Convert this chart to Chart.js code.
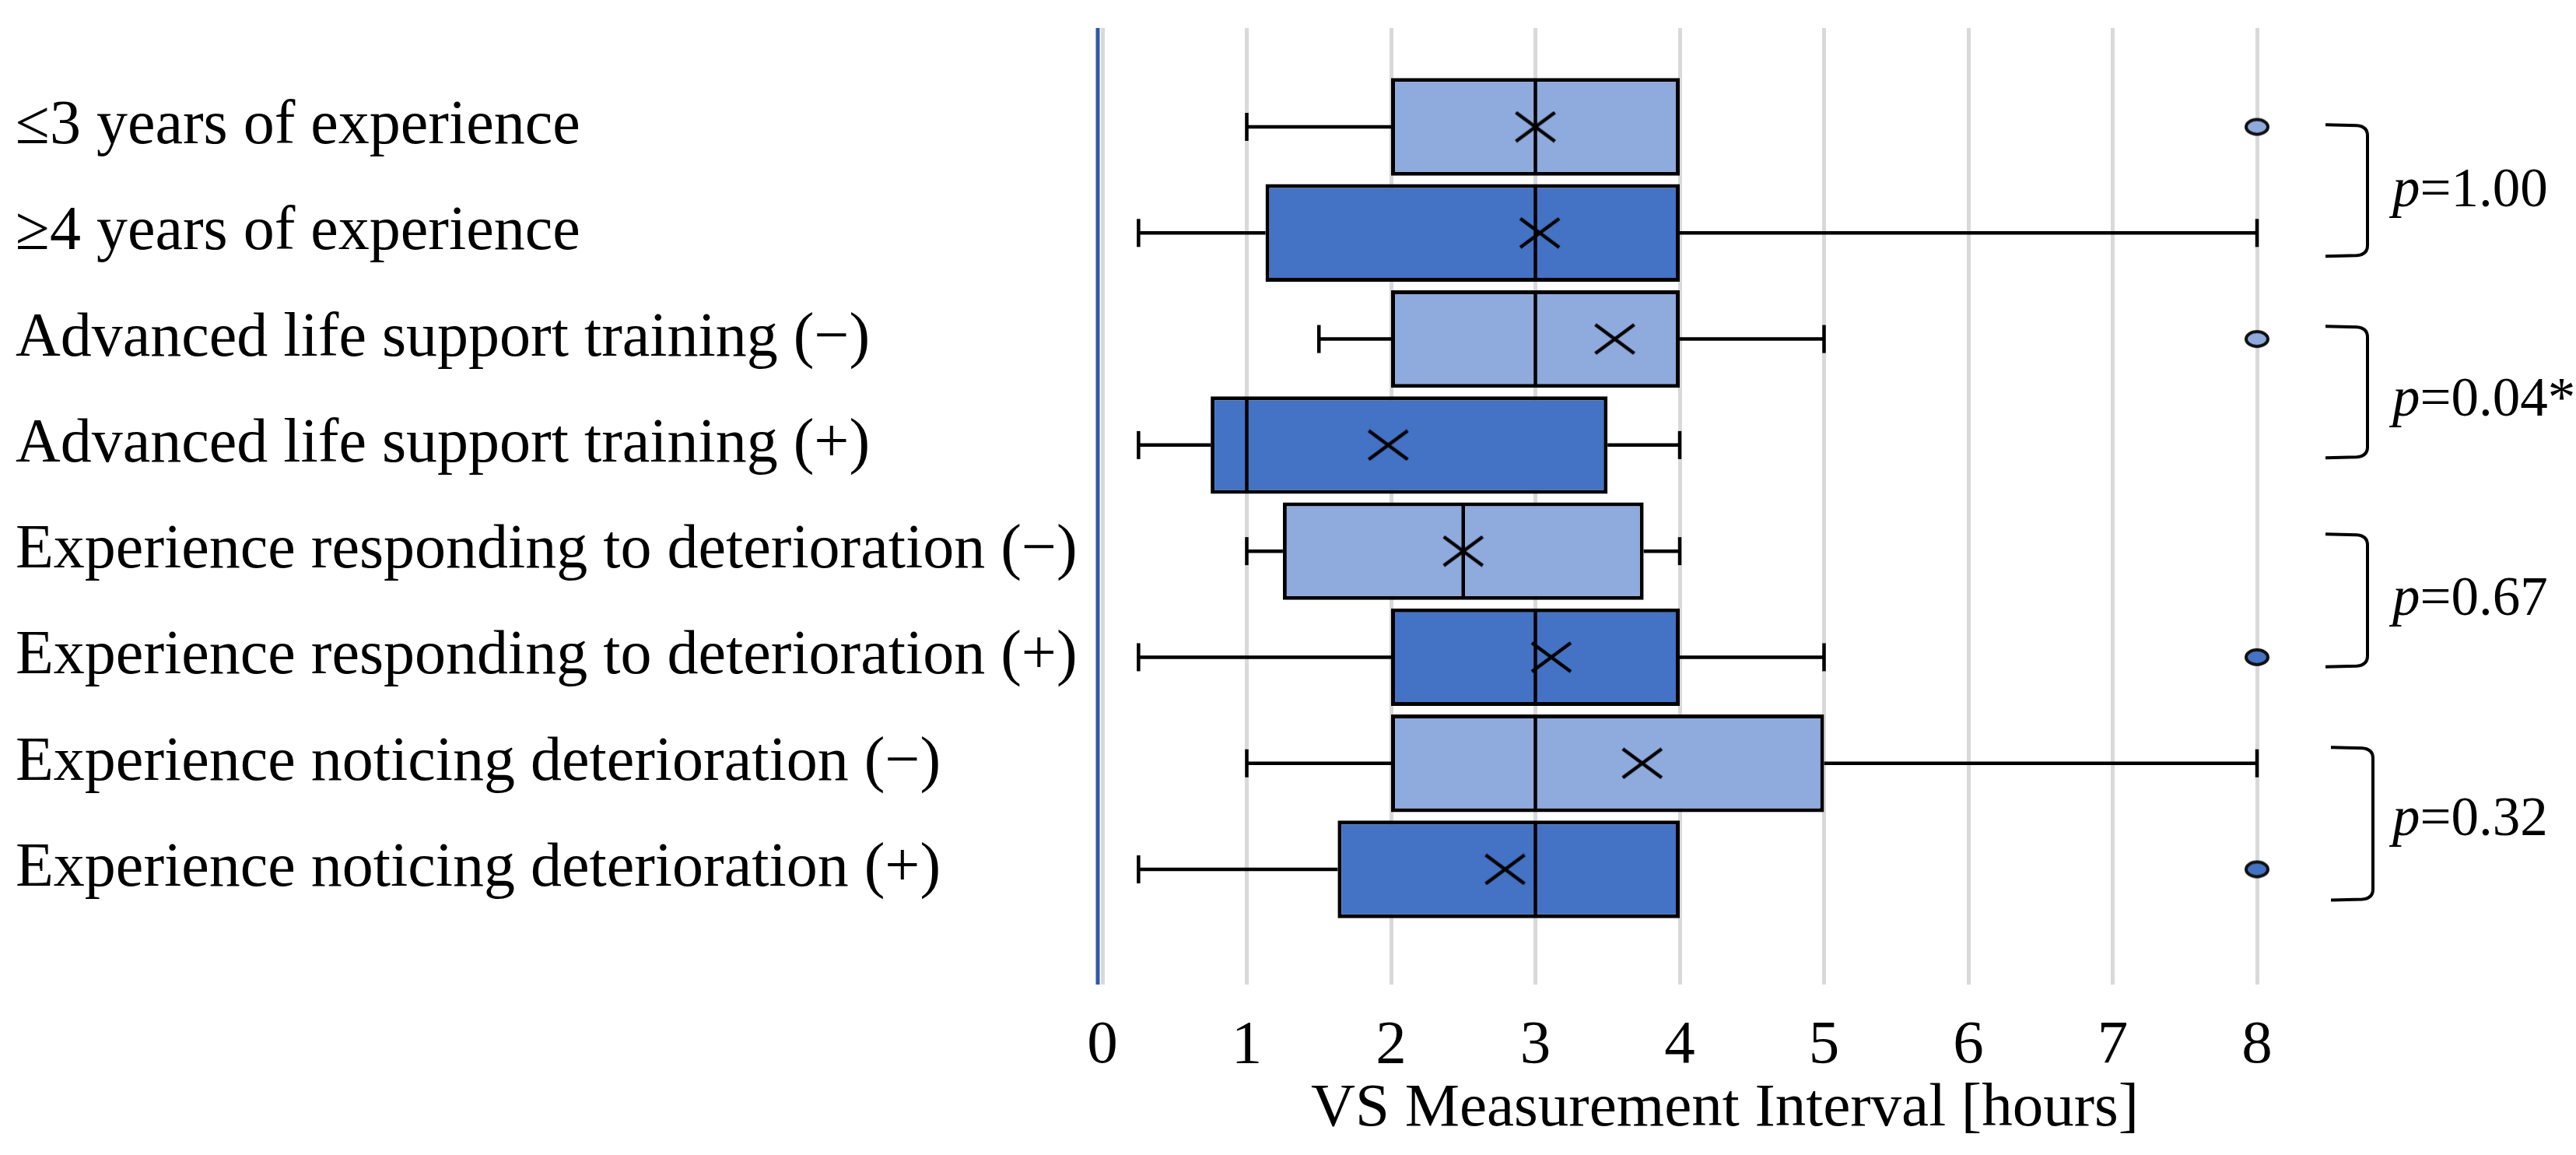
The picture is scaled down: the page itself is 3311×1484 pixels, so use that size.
<!DOCTYPE html>
<html>
<head>
<meta charset="utf-8">
<script src="https://cdn.jsdelivr.net/npm/chart.js@4.4.1/dist/chart.umd.min.js"></script>
<style>
html, body { margin: 0; padding: 0; background: #fff; }
#wrap { width: 3311px; height: 1484px; }
</style>
</head>
<body>
<div id="wrap"><canvas id="myChart"></canvas></div>
<script>
// groups, top to bottom
const categories = [
    '≤3 years of experience',
    '≥4 years of experience',
    'Advanced life support training (−)',
    'Advanced life support training (+)',
    'Experience responding to deterioration (−)',
    'Experience responding to deterioration (+)',
    'Experience noticing deterioration (−)',
    'Experience noticing deterioration (+)'
];
// box plot values, hours
const whiskerLow = [1, 0.25, 1.5, 0.25, 1, 0.25, 1, 0.25];
const q1 = [2, 1.13, 2, 0.75, 1.25, 2, 2, 1.63];
const median = [3, 3, 3, 1, 2.5, 3, 3, 3];
const q3 = [4, 4, 4, 3.5, 3.75, 4, 5, 4];
const whiskerHigh = [4, 8, 5, 4, 4, 5, 8, 4];
const means = [3.0, 3.03, 3.55, 1.98, 2.5, 3.11, 3.74, 2.79];
const outliers = [[8], [], [8], [], [], [8], [], [8]];
const xTicks = [0, 1, 2, 3, 4, 5, 6, 7, 8];
// compared pairs and their p values
const pairs = [[0, 1], [2, 3], [4, 5], [6, 7]];
const pValues = ['1.00', '0.04*', '0.67', '0.32'];
const axisTitle = 'VS Measurement Interval [hours]';

// bracket layout: ends in row steps, label as fraction of bracket height
const bracketTop = [-0.02, -0.12, -0.16, -0.15];
const bracketBottom = [0.22, 0.12, 0.09, 0.29];
const labelAt = [0.48, 0.54, 0.47, 0.45];

const lightBlue = '#8FAADC';
const darkBlue = '#4472C4';
const serif = "'Liberation Serif', serif";
const rowColor = i => (i % 2 ? darkBlue : lightBlue);

function makeCross(w, h) {
    const c = document.createElement('canvas');
    c.width = w;
    c.height = h;
    const g = c.getContext('2d');
    g.strokeStyle = '#000';
    g.lineWidth = 4.5;
    g.beginPath();
    g.moveTo(2, 2);
    g.lineTo(w - 2, h - 2);
    g.moveTo(w - 2, 2);
    g.lineTo(2, h - 2);
    g.stroke();
    return c;
}

function makeDot(fill) {
    const c = document.createElement('canvas');
    c.width = 36;
    c.height = 27;
    const g = c.getContext('2d');
    g.beginPath();
    g.ellipse(18, 13.5, 14, 9.5, 0, 0, Math.PI * 2);
    g.fillStyle = fill;
    g.fill();
    g.lineWidth = 4;
    g.strokeStyle = '#111';
    g.stroke();
    return c;
}

const crossImg = makeCross(54, 41);
const lightDot = makeDot(lightBlue);
const darkDot = makeDot(darkBlue);

let rows = categories.map((c, i) => i);
let lowWhiskers = rows.map(i => ({ y: i, x: [whiskerLow[i], q1[i]] }));
let highWhiskers = rows.map(i => ({ y: i, x: [q3[i], whiskerHigh[i]] }));
let boxes = rows.map(i => ({ y: i, x: [q1[i], q3[i]] }));
let caps = [];
rows.forEach(i => {
    if (whiskerLow[i] < q1[i]) caps.push({ x: whiskerLow[i], y: i });
    if (whiskerHigh[i] > q3[i]) caps.push({ x: whiskerHigh[i], y: i });
});
let medianPts = rows.map(i => ({ x: median[i], y: i }));
let meanPts = rows.map(i => ({ x: means[i], y: i }));
let outlierPts = [];
rows.forEach(i => outliers[i].forEach(v => outlierPts.push({ x: v, y: i })));

// blue line at the left edge of the plot
const axisLine = {
    id: 'axisLine',
    beforeDatasetsDraw(chart) {
        const { ctx, chartArea } = chart;
        ctx.save();
        ctx.strokeStyle = '#2E59A8';
        ctx.lineWidth = 5;
        ctx.beginPath();
        ctx.moveTo(chartArea.left - 6, chartArea.top);
        ctx.lineTo(chartArea.left - 6, chartArea.bottom);
        ctx.stroke();
        ctx.restore();
    }
};

// brackets with p values, plus the x axis title
const annotations = {
    id: 'annotations',
    afterDraw(chart) {
        const { ctx, chartArea } = chart;
        const ys = chart.scales.y;
        const step = ys.getPixelForValue(1) - ys.getPixelForValue(0);
        ctx.save();
        ctx.strokeStyle = '#000';
        ctx.fillStyle = '#000';
        ctx.lineWidth = 4;
        pairs.forEach((p, k) => {
            const top = ys.getPixelForValue(p[0]) + bracketTop[k] * step;
            const bottom = ys.getPixelForValue(p[1]) + bracketBottom[k] * step;
            const shift = k === 3 ? 7 : 0;
            const xl = chartArea.right + 88 + shift;
            const xv = chartArea.right + 142 + shift;
            ctx.beginPath();
            ctx.moveTo(xl, top);
            ctx.lineTo(xv - 14, top + 1);
            ctx.quadraticCurveTo(xv, top + 2, xv, top + 14);
            ctx.lineTo(xv, bottom - 14);
            ctx.quadraticCurveTo(xv, bottom - 2, xv - 14, bottom - 1);
            ctx.lineTo(xl, bottom);
            ctx.stroke();

            const ty = top + (bottom - top) * labelAt[k] + 24;
            const xt = chartArea.right + 174;
            ctx.textBaseline = 'alphabetic';
            ctx.textAlign = 'left';
            ctx.font = 'italic 71px ' + serif;
            ctx.fillText('p', xt, ty);
            const w = ctx.measureText('p').width;
            ctx.font = '71px ' + serif;
            ctx.fillText('=' + pValues[k], xt + w, ty);
        });
        ctx.font = '79px ' + serif;
        ctx.textAlign = 'center';
        ctx.fillText(axisTitle, (chartArea.left + chartArea.right) / 2 + 58, 1446);
        ctx.restore();
    }
};

let ctx = document.getElementById('myChart').getContext('2d');

let myChart = new Chart(ctx, {
    type: 'bar',
    data: {
        datasets: [{
                type: 'scatter',
                data: meanPts,
                pointStyle: crossImg,
                pointRadius: 20,
                clip: false,
                order: 0
            },
            {
                type: 'scatter',
                data: medianPts,
                pointStyle: 'line',
                pointRotation: 90,
                pointRadius: 60,
                pointBorderWidth: 4.5,
                pointBorderColor: '#000',
                clip: false,
                order: 1
            },
            {
                type: 'scatter',
                data: outlierPts,
                pointStyle: c => (c.raw && c.raw.y % 2 ? darkDot : lightDot),
                pointRadius: 12,
                clip: false,
                order: 1
            },
            {
                type: 'scatter',
                data: caps,
                pointStyle: 'line',
                pointRotation: 90,
                pointRadius: 18,
                pointBorderWidth: 4.5,
                pointBorderColor: '#000',
                clip: false,
                order: 3
            },
            {
                label: 'box',
                data: boxes,
                backgroundColor: rows.map(rowColor),
                borderColor: '#000',
                borderWidth: 5,
                borderSkipped: false,
                grouped: false,
                categoryPercentage: 1,
                barPercentage: 0.92,
                order: 2
            },
            {
                label: 'low whisker',
                data: lowWhiskers,
                backgroundColor: '#000',
                borderWidth: 0,
                grouped: false,
                maxBarThickness: 4.5,
                order: 4
            },
            {
                label: 'high whisker',
                data: highWhiskers,
                backgroundColor: '#000',
                borderWidth: 0,
                grouped: false,
                maxBarThickness: 4.5,
                order: 4
            }
        ]
    },
    options: {
        indexAxis: 'y',
        responsive: true,
        maintainAspectRatio: false,
        animation: false,
        events: [],
        layout: {
            autoPadding: false,
            padding: { left: 20, right: 410, top: 36, bottom: 0 }
        },
        scales: {
            x: {
                type: 'linear',
                min: 0,
                max: 8,
                afterBuildTicks: s => { s.ticks = xTicks.map(v => ({ value: v })); },
                afterFit: s => {
                    s.height = 219;
                    s.paddingLeft = 0;
                    s.paddingRight = 0;
                },
                grid: { color: '#D9D9D9', lineWidth: 5, drawTicks: false },
                border: { display: false },
                ticks: {
                    color: '#000',
                    padding: 32,
                    font: { family: serif, size: 79 }
                }
            },
            y: {
                type: 'linear',
                reverse: true,
                offset: false,
                min: -0.932,
                max: 8.086,
                afterBuildTicks: s => { s.ticks = rows.map(v => ({ value: v })); },
                afterFit: s => {
                    s.width = 1397;
                    s.paddingTop = 0;
                    s.paddingBottom = 0;
                },
                grid: { display: false, offset: false },
                border: { display: false },
                ticks: {
                    crossAlign: 'far',
                    color: '#000',
                    autoSkip: false,
                    font: { family: serif, size: 80 },
                    callback: v => categories[v]
                }
            }
        },
        plugins: {
            legend: { display: false },
            tooltip: { enabled: false }
        }
    },
    plugins: [axisLine, annotations]
});
</script>
</body>
</html>
